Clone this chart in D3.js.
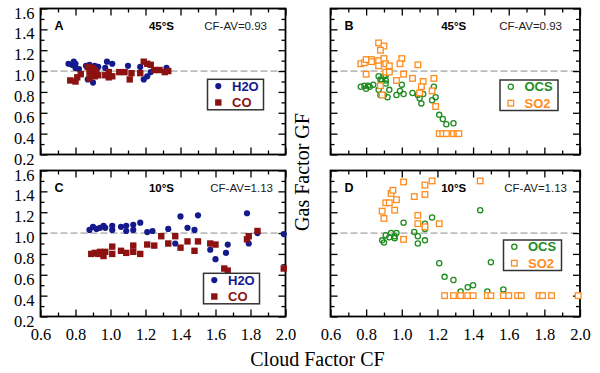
<!DOCTYPE html>
<html>
<head>
<meta charset="utf-8">
<script src="https://cdn.jsdelivr.net/npm/d3@7"></script>
<style>
  body { margin: 0; background: #fff; }
  svg { display: block; }
</style>
</head>
<body>
<div id="chart"></div>
<script>

/** Pairs of [cloud factor CF, gas factor GF]. 45°S first. **/
var h2o45 = [[0.76,1.07],[0.78,1.06],[0.79,1.09],[0.80,1.07],[0.80,1.03],[0.82,1.02],[0.86,1.05],[0.88,1.06],[0.91,1.05],
    [0.93,1.04],[0.87,0.92],[0.90,0.89],[0.97,1.03],[0.98,1.09],[1.01,1.07],[1.10,1.05],[1.17,1.04],[1.19,0.92],
    [1.21,0.95],[1.23,0.99],[1.32,1.03]];
var co45 = [[0.77,0.91],[0.80,0.90],[0.81,0.94],[0.83,0.97],[0.87,1.04],[0.90,1.03],[0.88,0.99],[0.92,0.99],[0.88,0.93],
    [0.89,0.96],[0.91,0.95],[0.91,1.01],[0.93,0.96],[0.97,0.96],[0.99,0.94],[0.99,0.99],[1.01,0.95],[1.05,0.99],
    [1.08,0.99],[1.11,0.92],[1.12,0.98],[1.17,0.98],[1.19,1.09],[1.21,1.07],[1.23,1.06],[1.25,1.01],[1.28,1.01],
    [1.31,0.99],[1.33,1.00]];
var ocs45 = [[0.77,0.85],[0.79,0.86],[0.80,0.83],[0.81,0.86],[0.82,0.85],[0.84,0.87],[0.87,0.95],[0.88,0.92],[0.90,0.95],
    [0.91,0.96],[0.91,0.91],[0.89,0.91],[0.91,0.88],[0.87,0.82],[0.88,0.77],[0.90,0.77],[0.93,0.82],[0.92,0.75],
    [0.97,0.77],[1.00,0.87],[0.99,0.81],[1.01,0.78],[1.06,0.79],[1.09,0.77],[1.10,0.74],[1.11,0.69],[1.12,0.78],
    [1.17,0.72],[1.19,0.75],[1.18,0.85],[1.21,0.58],[1.23,0.54],[1.25,0.49],[1.29,0.50]];
var so245 = [[0.87,1.27],[0.90,1.24],[0.88,1.20],[0.77,1.07],[0.79,1.08],[0.80,1.11],[0.83,1.11],[0.83,1.09],[0.87,1.10],
    [0.87,1.05],[0.90,1.12],[0.91,1.07],[0.93,1.05],[0.91,0.99],[0.93,0.99],[1.00,1.12],[0.99,1.07],[1.09,1.06],
    [0.80,0.97],[1.01,0.97],[0.97,0.91],[1.06,0.93],[1.12,0.90],[1.18,0.93],[0.88,0.86],[0.89,0.77],[1.11,0.85],
    [1.10,0.79],[1.17,0.81],[1.19,0.66],[1.21,0.40],[1.23,0.40],[1.25,0.40],[1.29,0.40],[1.31,0.40],[1.32,0.40]];

/** 10°S **/
var h2o10 = [[0.88,1.03],[0.90,1.06],[0.92,1.04],[0.94,1.05],[0.96,1.07],[0.97,1.05],[1.01,1.07],[1.01,1.03],[1.06,1.06],
    [1.09,1.07],[1.09,1.02],[1.13,1.08],[1.13,1.03],[1.17,1.10],[1.21,1.01],[1.24,1.02],[1.33,1.04],[1.37,0.90],
    [1.40,1.16],[1.44,1.05],[1.48,1.03],[1.50,1.17],[1.57,0.84],[1.60,0.75],[1.66,0.81],[1.67,0.89],[1.78,1.19],
    [1.79,0.90],[1.84,1.00],[1.99,0.99]];
var co10 = [[0.89,0.80],[0.91,0.81],[0.93,0.80],[0.94,0.82],[0.96,0.78],[0.97,0.82],[1.01,0.87],[1.01,0.80],[1.06,0.83],
    [1.09,0.81],[1.13,0.88],[1.13,0.82],[1.17,0.80],[1.21,0.89],[1.25,0.88],[1.29,0.97],[1.33,0.90],[1.37,0.97],
    [1.40,0.86],[1.44,0.92],[1.48,0.83],[1.50,0.92],[1.57,0.90],[1.60,0.89],[1.65,0.66],[1.67,0.64],[1.78,0.94],
    [1.79,0.97],[1.84,1.02],[1.99,0.66]];
var ocs10 = [[0.89,0.93],[0.90,0.91],[0.91,0.98],[0.93,0.96],[0.94,1.00],[0.96,0.95],[0.97,1.00],[0.96,0.97],[1.01,1.10],
    [1.01,0.94],[1.07,1.01],[1.09,0.97],[1.09,0.90],[1.13,1.09],[1.13,1.04],[1.13,0.93],[1.17,1.15],[1.21,0.71],
    [1.24,0.58],[1.29,0.55],[1.33,0.44],[1.37,0.48],[1.40,0.50],[1.44,1.22],[1.48,0.44],[1.50,0.72],[1.57,0.46]];
var so210 = [[0.89,1.21],[0.90,1.14],[0.91,1.29],[0.93,1.29],[0.94,1.38],[0.95,1.41],[0.96,1.22],[0.97,1.32],[1.01,1.49],
    [1.01,0.94],[1.07,1.35],[1.09,1.17],[1.09,1.09],[1.13,1.46],[1.13,1.37],[1.13,1.06],[1.17,1.50],[1.21,1.09],
    [1.44,1.50],[1.24,0.40],[1.29,0.40],[1.33,0.40],[1.37,0.40],[1.40,0.40],[1.48,0.40],[1.50,0.40],[1.57,0.40],
    [1.60,0.40],[1.65,0.40],[1.67,0.40],[1.77,0.40],[1.79,0.40],[1.84,0.40],[1.99,0.40]];

/** Axis ticks **/
var xTicks = [0.6, 0.8, 1.0, 1.2, 1.4, 1.6, 1.8, 2.0];
var xMinor = [0.7, 0.9, 1.1, 1.3, 1.5, 1.7, 1.9];
var yTicks = [0.2, 0.4, 0.6, 0.8, 1.0, 1.2, 1.4, 1.6];
var yMinor = [0.3, 0.5, 0.7, 0.9, 1.1, 1.3, 1.5];

var colors = { h2o: "#141a8c", co: "#8c1212", ocs: "#1e8c1e", so2: "#ff8c1e" };
var serif = "'Liberation Serif', 'Times New Roman', serif";
var sans = "'Liberation Sans', Arial, sans-serif";

var panels = [
    { id: "A", lat: "45°S", av: "CF-AV=0.93", left: 40.5, right: 285.5, top: 8.5, bottom: 154.5,
      yLabels: true, xLabels: false, avRight: 18.5, lx: 207.5, ly: 79.3, lw: 56,
      series: [{ name: "H2O", data: h2o45, type: "dot", color: colors.h2o },
               { name: "CO", data: co45, type: "box", color: colors.co }] },
    { id: "B", lat: "45°S", av: "CF-AV=0.93", left: 330.5, right: 580, top: 8.5, bottom: 154.5,
      yLabels: false, xLabels: false, avRight: 18, lx: 500, ly: 80, lw: 58,
      series: [{ name: "OCS", data: ocs45, type: "ring", color: colors.ocs },
               { name: "SO2", data: so245, type: "open", color: colors.so2 }] },
    { id: "C", lat: "10°S", av: "CF-AV=1.13", left: 40.5, right: 285.5, top: 170.5, bottom: 316.5,
      yLabels: true, xLabels: true, avRight: 12.5, lx: 203.5, ly: 273.3, lw: 56,
      series: [{ name: "H2O", data: h2o10, type: "dot", color: colors.h2o },
               { name: "CO", data: co10, type: "box", color: colors.co }] },
    { id: "D", lat: "10°S", av: "CF-AV=1.13", left: 330.5, right: 580, top: 170.5, bottom: 316.5,
      yLabels: false, xLabels: true, avRight: 13, lx: 503.5, ly: 240, lw: 58,
      series: [{ name: "OCS", data: ocs10, type: "ring", color: colors.ocs },
               { name: "SO2", data: so210, type: "open", color: colors.so2 }] }
];

var svg = d3.select("#chart").append("svg")
    .attr("width", 600)
    .attr("height", 373)
    .style("background", "#fff");

/** Draws one marker of a given type at px, py **/
function marker(sel, type, color, px, py) {
    if (type === "dot") {
        sel.append("circle").attr("cx", px).attr("cy", py).attr("r", 3.1).attr("fill", color);
    } else if (type === "box") {
        sel.append("rect").attr("x", px - 3.2).attr("y", py - 3.2).attr("width", 6.4).attr("height", 6.4).attr("fill", color);
    } else if (type === "ring") {
        sel.append("circle").attr("cx", px).attr("cy", py).attr("r", 2.6)
            .attr("fill", "none").attr("stroke", color).attr("stroke-width", 1.3);
    } else {
        sel.append("rect").attr("x", px - 2.8).attr("y", py - 2.8).attr("width", 5.6).attr("height", 5.6)
            .attr("fill", "#fff").attr("stroke", color).attr("stroke-width", 1.3);
    }
}

panels.forEach(function (p) {

    var x = d3.scaleLinear().domain([0.6, 2.0]).range([p.left, p.right]);
    var y = d3.scaleLinear().domain([0.2, 1.6]).range([p.bottom, p.top]);
    var g = svg.append("g").attr("class", "panel");

    /** reference line at GF = 1 **/
    g.append("line")
        .attr("x1", p.left).attr("x2", p.right)
        .attr("y1", y(1.0)).attr("y2", y(1.0))
        .attr("stroke", "#8a8a8a")
        .attr("stroke-width", 1)
        .style("stroke-dasharray", "7,3");

    /** inward ticks on all four sides **/
    function tickSide(axis, vals, size, tr) {
        g.append("g")
            .attr("transform", tr)
            .call(axis.tickValues(vals).tickSize(-size).tickFormat(""))
            .call(function (s) {
                s.select(".domain").remove();
                s.selectAll("line").attr("stroke", "#000").attr("stroke-width", 1.3);
            });
    }
    var bottomTr = "translate(0," + p.bottom + ")";
    var topTr = "translate(0," + p.top + ")";
    var leftTr = "translate(" + p.left + ",0)";
    var rightTr = "translate(" + p.right + ",0)";
    tickSide(d3.axisBottom(x), xTicks, 7, bottomTr);
    tickSide(d3.axisBottom(x), xMinor, 4, bottomTr);
    tickSide(d3.axisTop(x), xTicks, 7, topTr);
    tickSide(d3.axisTop(x), xMinor, 4, topTr);
    tickSide(d3.axisLeft(y), yTicks, 7, leftTr);
    tickSide(d3.axisLeft(y), yMinor, 4, leftTr);
    tickSide(d3.axisRight(y), yTicks, 7, rightTr);
    tickSide(d3.axisRight(y), yMinor, 4, rightTr);

    if (p.xLabels) {
        g.append("g")
            .attr("transform", bottomTr)
            .call(d3.axisBottom(x).tickValues(xTicks).tickSize(0).tickPadding(11.5).tickFormat(d3.format(".1f")))
            .call(function (s) {
                s.select(".domain").remove();
                s.selectAll("text").attr("fill", "#000").style("font-family", serif).style("font-size", "16.5px");
            });
    }
    if (p.yLabels) {
        g.append("g")
            .attr("transform", leftTr)
            .call(d3.axisLeft(y).tickValues(yTicks).tickSize(0).tickPadding(6).tickFormat(d3.format(".1f")))
            .call(function (s) {
                s.select(".domain").remove();
                s.selectAll("text").attr("fill", "#000").attr("dy", "0.58em")
                    .style("font-family", serif).style("font-size", "16.5px");
            });
    }

    /** frame **/
    g.append("rect")
        .attr("x", p.left).attr("y", p.top)
        .attr("width", p.right - p.left).attr("height", p.bottom - p.top)
        .attr("fill", "none")
        .attr("stroke", "#000")
        .attr("stroke-width", 1.8);

    /** panel captions **/
    g.append("text")
        .attr("x", p.left + 14).attr("y", p.top + 21)
        .style("font-family", sans).style("font-size", "12.5px").style("font-weight", "bold")
        .text(p.id);
    g.append("text")
        .attr("x", (p.left + p.right) / 2 - 1.5).attr("y", p.top + 21)
        .attr("text-anchor", "middle")
        .style("font-family", sans).style("font-size", "11.5px").style("font-weight", "bold")
        .text(p.lat);
    g.append("text")
        .attr("x", p.right - p.avRight).attr("y", p.top + 21)
        .attr("text-anchor", "end")
        .attr("fill", "#222")
        .style("font-family", sans).style("font-size", "11.5px")
        .text(p.av);

    /** data points **/
    p.series.forEach(function (s) {
        var layer = g.append("g").attr("class", "series-" + s.name);
        s.data.forEach(function (d) {
            marker(layer, s.type, s.color, x(d[0]), y(d[1]));
        });
    });

    /** legend **/
    var lg = g.append("g").attr("class", "legend");
    lg.append("rect")
        .attr("x", p.lx).attr("y", p.ly)
        .attr("width", p.lw).attr("height", 30.5)
        .attr("fill", "#fff")
        .attr("stroke", "#333")
        .attr("stroke-width", 1.5);
    p.series.forEach(function (s, i) {
        marker(lg, s.type, s.color, p.lx + 10.8, p.ly + 6.8 + i * 16.4);
        lg.append("text")
            .attr("x", p.lx + 24.5).attr("y", p.ly + 11.4 + i * 16.4)
            .attr("fill", s.color)
            .style("font-family", sans).style("font-size", "13px").style("font-weight", "bold")
            .text(s.name);
    });
});

/** shared axis titles **/
svg.append("text")
    .attr("x", 317.5).attr("y", 366)
    .attr("text-anchor", "middle")
    .style("font-family", serif).style("font-size", "20px")
    .text("Cloud Factor CF");

svg.append("text")
    .attr("transform", "translate(309,172) rotate(-90)")
    .attr("text-anchor", "middle")
    .style("font-family", serif).style("font-size", "20px")
    .text("Gas Factor GF");

</script>
</body>
</html>
